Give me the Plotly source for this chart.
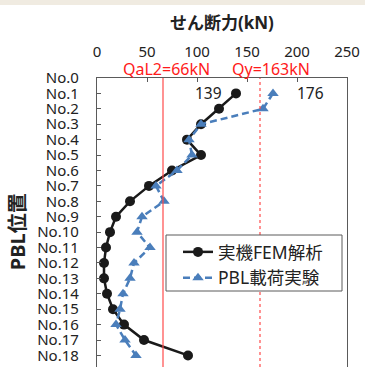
import plotly.graph_objects as go

# PBL positions (top to bottom) and shear force per position (kN)
positions = [f"No.{i}" for i in range(19)]
fem_pos = positions[1:]
fem_shear = [139, 122, 104, 90, 104, 75, 52, 33, 19, 13, 9, 7, 7, 10, 16, 27, 47, 91]
test_pos = positions[1:]
test_shear = [176, 166, 104, 92, 95, 80, 59, 67, 45, 40, 53, 37, 33, 26, 23, 19, 28, 39]

x_ticks = [0, 50, 100, 150, 200, 250]

# Reference shear capacities (kN)
qal2 = 66
qy = 163

FONT = "Noto Sans, Noto Sans CJK JP, sans-serif"
BLUE = "#4a7ebb"
RED = "#ff4a4a"
FRAME = "#5a5a5a"
TXT = "#222222"

fig = go.Figure()

fig.add_trace(go.Scatter(
    x=fem_shear, y=fem_pos, name="実機FEM解析",
    mode="lines+markers",
    line=dict(color="#1a1a1a", width=2.5),
    marker=dict(symbol="circle", size=10, color="#1a1a1a"),
))
fig.add_trace(go.Scatter(
    x=test_shear, y=test_pos, name="PBL載荷実験",
    mode="lines+markers",
    line=dict(color=BLUE, width=2.5, dash="7px,4px"),
    marker=dict(symbol="triangle-up", size=10, color=BLUE),
))

# Capacity lines
fig.add_shape(type="line", xref="x", yref="paper", x0=qal2, x1=qal2, y0=0, y1=1,
              line=dict(color=RED, width=1.2))
fig.add_shape(type="line", xref="x", yref="paper", x0=qy, x1=qy, y0=0, y1=1,
              line=dict(color=RED, width=1.2, dash="dot"))

# Legend frame
fig.add_shape(type="rect", xref="paper", yref="paper",
              x0=(166 - 97) / 250, x1=(342 - 97) / 250,
              y0=1 - (291 - 78) / 289, y1=1 - (235 - 78) / 289,
              line=dict(color=FRAME, width=1), fillcolor="white", layer="above")

# Top band
fig.add_shape(type="rect", xref="paper", yref="paper", x0=-0.5, x1=1.5,
              y0=1 + 73 / 289, y1=1 + 80 / 289, line=dict(width=0),
              fillcolor="#f0ebe1", layer="below")

annotations = [
    dict(text=f"QaL2={qal2}kN", x=qal2, xref="x", xshift=3, y=1, yref="paper",
         yshift=9, yanchor="middle", showarrow=False,
         font=dict(family=FONT, size=16, color="#ff1a1a")),
    dict(text=f"Qy={qy}kN", x=qy, xref="x", xshift=11, y=1, yref="paper",
         yshift=9, yanchor="middle", showarrow=False,
         font=dict(family=FONT, size=16, color="#ff1a1a")),
    dict(text=str(fem_shear[0]), x=fem_shear[0], y=fem_pos[0], xshift=-28,
         showarrow=False, font=dict(family=FONT, size=15.5, color=TXT)),
    dict(text=str(test_shear[0]), x=test_shear[0], y=test_pos[0], xshift=37,
         showarrow=False, font=dict(family=FONT, size=15.5, color=TXT)),
    dict(text="<b>せん断力(kN)</b>", x=125, xref="x", y=1, yref="paper",
         yshift=56, yanchor="middle", showarrow=False,
         font=dict(family=FONT, size=17, color=TXT)),
    dict(text="<b>PBL位置</b>", x=0, xref="paper", xshift=-80, xanchor="center",
         y="No.10", yref="y", yanchor="middle", textangle=-90, showarrow=False,
         font=dict(family=FONT, size=20, color=TXT)),
]

fig.update_layout(
    width=365, height=367,
    margin=dict(l=97, r=18, t=78, b=0, pad=0),
    paper_bgcolor="white", plot_bgcolor="white",
    font=dict(family=FONT, size=15, color=TXT),
    showlegend=True,
    legend=dict(
        x=(178 - 97) / 250, xanchor="left", y=1 - (234 - 78) / 289, yanchor="top",
        bgcolor="rgba(0,0,0,0)", borderwidth=0,
        font=dict(family=FONT, size=17.5, color=TXT),
        itemwidth=30,
    ),
    annotations=annotations,
)

fig.update_xaxes(
    side="top", range=[0, 250], tickvals=x_ticks,
    ticks="inside", ticklen=4, tickcolor=FRAME,
    showline=True, linecolor=FRAME, linewidth=1.3, mirror=False,
    showgrid=False, zeroline=False, ticklabelstandoff=14,
    tickfont=dict(family=FONT, size=15, color=TXT),
)
fig.update_yaxes(
    type="category", categoryorder="array", categoryarray=positions,
    range=[18.75, 0], tickvals=positions,
    ticks="inside", ticklen=4, tickcolor=FRAME,
    showline=True, linecolor=FRAME, linewidth=1.3, mirror=True,
    showgrid=False, zeroline=False, ticklabelstandoff=14,
    tickfont=dict(family=FONT, size=15, color=TXT),
)

fig.write_html("out.html")
